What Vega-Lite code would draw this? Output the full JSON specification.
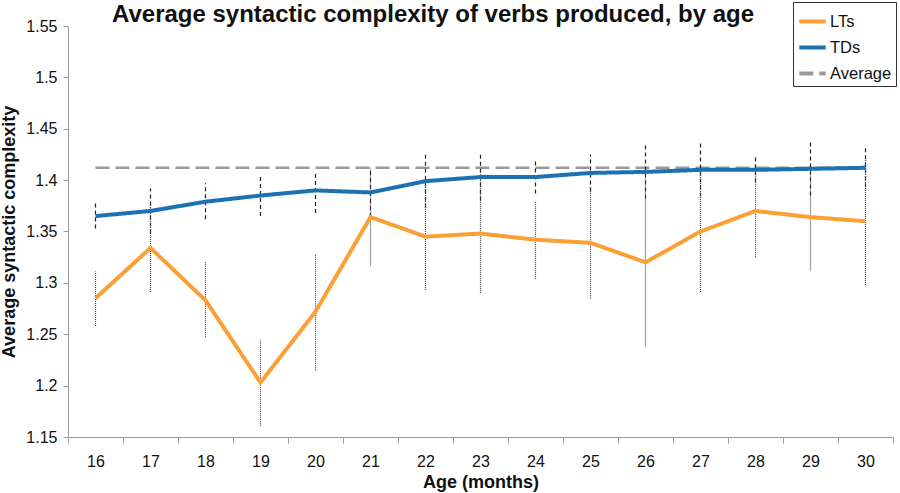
{
  "$schema": "https://vega.github.io/schema/vega-lite/v6.json",
  "width": 825,
  "height": 411,
  "autosize": {"type": "none"},
  "padding": {"left": 68, "top": 26, "right": 7, "bottom": 56},
  "background": "white",
  "config": {
    "view": {"stroke": null},
    "font": "Liberation Sans",
    "axis": {"grid": false, "domainColor": "#999999", "tickColor": "#999999", "labelColor": "#111111", "titleColor": "#111111", "labelFont": "Liberation Sans", "titleFont": "Liberation Sans"},
    "legend": {
      "orient": "none", "legendX": 725, "legendY": -24,
      "symbolType": "stroke", "symbolStrokeWidth": 4, "symbolSize": 700,
      "labelFontSize": 16.5, "labelFont": "Liberation Sans", "labelColor": "#111111",
      "strokeColor": "#333333", "fillColor": "white", "padding": 4, "rowPadding": 2,
      "labelOffset": 2
    }
  },
  "title": {
    "text": "Average syntactic complexity of verbs produced, by age",
    "fontSize": 24,
    "fontWeight": "bold",
    "font": "Liberation Sans",
    "color": "#111111",
    "anchor": "start",
    "frame": "group",
    "dx": 44,
    "dy": 27,
    "offset": 2
  },
  "data": {
    "values": [
      {"age": "16", "group": "LTs", "mean": 1.285, "lo": 1.258, "hi": 1.311},
      {"age": "17", "group": "LTs", "mean": 1.334, "lo": 1.291, "hi": 1.377},
      {"age": "18", "group": "LTs", "mean": 1.283, "lo": 1.247, "hi": 1.320},
      {"age": "19", "group": "LTs", "mean": 1.203, "lo": 1.161, "hi": 1.244},
      {"age": "20", "group": "LTs", "mean": 1.272, "lo": 1.215, "hi": 1.328},
      {"age": "21", "group": "LTs", "mean": 1.364, "lo": 1.317, "hi": 1.411},
      {"age": "22", "group": "LTs", "mean": 1.345, "lo": 1.293, "hi": 1.397},
      {"age": "23", "group": "LTs", "mean": 1.348, "lo": 1.290, "hi": 1.406},
      {"age": "24", "group": "LTs", "mean": 1.342, "lo": 1.304, "hi": 1.379},
      {"age": "25", "group": "LTs", "mean": 1.339, "lo": 1.285, "hi": 1.393},
      {"age": "26", "group": "LTs", "mean": 1.320, "lo": 1.238, "hi": 1.402},
      {"age": "27", "group": "LTs", "mean": 1.350, "lo": 1.291, "hi": 1.409},
      {"age": "28", "group": "LTs", "mean": 1.370, "lo": 1.325, "hi": 1.415},
      {"age": "29", "group": "LTs", "mean": 1.364, "lo": 1.312, "hi": 1.416},
      {"age": "30", "group": "LTs", "mean": 1.360, "lo": 1.298, "hi": 1.422},
      {"age": "16", "group": "TDs", "mean": 1.365, "lo": 1.353, "hi": 1.378},
      {"age": "17", "group": "TDs", "mean": 1.370, "lo": 1.348, "hi": 1.392},
      {"age": "18", "group": "TDs", "mean": 1.379, "lo": 1.362, "hi": 1.397},
      {"age": "19", "group": "TDs", "mean": 1.385, "lo": 1.365, "hi": 1.404},
      {"age": "20", "group": "TDs", "mean": 1.390, "lo": 1.368, "hi": 1.408},
      {"age": "21", "group": "TDs", "mean": 1.388, "lo": 1.364, "hi": 1.412},
      {"age": "22", "group": "TDs", "mean": 1.399, "lo": 1.373, "hi": 1.425},
      {"age": "23", "group": "TDs", "mean": 1.403, "lo": 1.380, "hi": 1.426},
      {"age": "24", "group": "TDs", "mean": 1.403, "lo": 1.387, "hi": 1.419},
      {"age": "25", "group": "TDs", "mean": 1.407, "lo": 1.389, "hi": 1.425},
      {"age": "26", "group": "TDs", "mean": 1.408, "lo": 1.382, "hi": 1.434},
      {"age": "27", "group": "TDs", "mean": 1.410, "lo": 1.384, "hi": 1.436},
      {"age": "28", "group": "TDs", "mean": 1.410, "lo": 1.398, "hi": 1.422},
      {"age": "29", "group": "TDs", "mean": 1.411, "lo": 1.385, "hi": 1.437},
      {"age": "30", "group": "TDs", "mean": 1.412, "lo": 1.393, "hi": 1.431},
      {"age": "16", "group": "Average", "mean": 1.412},
      {"age": "17", "group": "Average", "mean": 1.412},
      {"age": "18", "group": "Average", "mean": 1.412},
      {"age": "19", "group": "Average", "mean": 1.412},
      {"age": "20", "group": "Average", "mean": 1.412},
      {"age": "21", "group": "Average", "mean": 1.412},
      {"age": "22", "group": "Average", "mean": 1.412},
      {"age": "23", "group": "Average", "mean": 1.412},
      {"age": "24", "group": "Average", "mean": 1.412},
      {"age": "25", "group": "Average", "mean": 1.412},
      {"age": "26", "group": "Average", "mean": 1.412},
      {"age": "27", "group": "Average", "mean": 1.412},
      {"age": "28", "group": "Average", "mean": 1.412},
      {"age": "29", "group": "Average", "mean": 1.412},
      {"age": "30", "group": "Average", "mean": 1.412}
    ]
  },
  "encoding": {
    "x": {
      "field": "age", "type": "ordinal",
      "scale": {"type": "band", "paddingInner": 0, "paddingOuter": 0},
      "axis": {"title": "Age (months)", "titleFontSize": 18, "titleFontWeight": "bold", "titlePadding": 4, "labelFontSize": 16, "labelPadding": 10, "labelAngle": 0, "tickBand": "extent", "tickSize": 6, "domainWidth": 1}
    },
    "y": {
      "field": "mean", "type": "quantitative",
      "scale": {"domain": [1.15, 1.55], "nice": false, "zero": false},
      "axis": {"title": "Average syntactic complexity", "titleFontSize": 18, "titleFontWeight": "bold", "titlePadding": 7, "labelFontSize": 16, "labelPadding": 6, "format": ".2~f", "values": [1.15, 1.2, 1.25, 1.3, 1.35, 1.4, 1.45, 1.5, 1.55], "tickSize": 5}
    }
  },
  "layer": [
    {
      "transform": [{"filter": "datum.group === 'Average'"}],
      "mark": {"type": "line", "strokeWidth": 2.5},
      "encoding": {
        "color": {"field": "group", "type": "nominal", "title": null, "scale": {"domain": ["LTs", "TDs", "Average"], "range": ["#F9A036", "#1A72B2", "#999999"]}, "legend": {"values": ["LTs", "TDs", "Average"]}},
        "strokeDash": {"field": "group", "type": "nominal", "title": null, "scale": {"domain": ["LTs", "TDs", "Average"], "range": [[1, 0], [1, 0], [14, 6]]}, "legend": {"values": ["LTs", "TDs", "Average"]}}
      }
    },
    {
      "transform": [{"filter": "datum.group === 'TDs'"}],
      "mark": {"type": "rule", "color": "#222222", "strokeWidth": 1.2, "strokeDash": [4, 3]},
      "encoding": {"y": {"field": "lo", "type": "quantitative"}, "y2": {"field": "hi"}}
    },
    {
      "transform": [{"filter": "datum.group === 'LTs'"}],
      "mark": {"type": "rule", "color": "#444444", "strokeWidth": 1.2, "strokeDash": [1, 1]},
      "encoding": {"y": {"field": "lo", "type": "quantitative"}, "y2": {"field": "hi"}}
    },
    {
      "transform": [{"filter": "datum.group !== 'Average'"}],
      "mark": {"type": "line", "strokeWidth": 4},
      "encoding": {
        "color": {"field": "group", "type": "nominal", "title": null, "scale": {"domain": ["LTs", "TDs", "Average"], "range": ["#F9A036", "#1A72B2", "#999999"]}, "legend": {"values": ["LTs", "TDs", "Average"]}},
        "strokeDash": {"field": "group", "type": "nominal", "title": null, "scale": {"domain": ["LTs", "TDs", "Average"], "range": [[1, 0], [1, 0], [14, 6]]}, "legend": {"values": ["LTs", "TDs", "Average"]}}
      }
    }
  ]
}
